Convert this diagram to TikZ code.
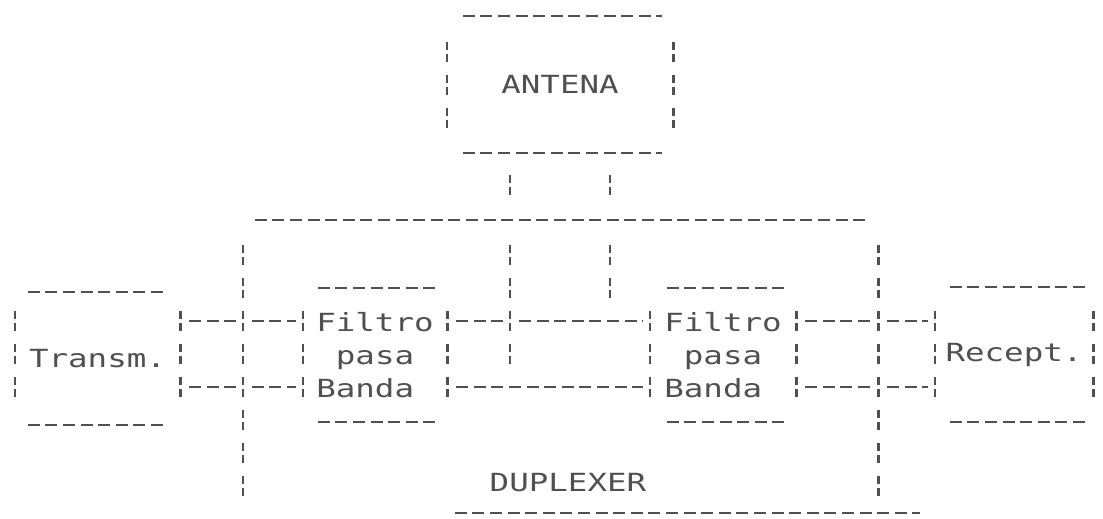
\documentclass[tikz,border=0pt]{standalone}
\usepackage{fontspec}
\newfontfamily\dotfont[FakeStretch=1.3]{DejaVu Sans Mono}
\usetikzlibrary{calc}
\definecolor{ink}{HTML}{505050}
\newcommand\asciisides[5]{%
  \draw[hd] ([xshift=#2pt]#1.north west) -- ([xshift=-#3pt]#1.north east);
  \draw[hd] ([xshift=#2pt]#1.south west) -- ([xshift=-#3pt]#1.south east);
  \draw[vd] ([yshift=-#4pt]#1.north west) -- ([yshift=#5pt]#1.south west);
  \draw[vd] ([yshift=-#4pt]#1.north east) -- ([yshift=#5pt]#1.south east);
}
\begin{document}
\begin{tikzpicture}[x=1pt,y=-1pt,
  hd/.style={draw=ink, line width=2.4pt, dash pattern=on 12pt off 5.6pt},
  vd/.style={draw=ink, line width=2.6pt, dash pattern=on 8pt off 4pt on 8pt off 13pt},
  blk/.style={rectangle, inner sep=0pt, text=ink, align=left,
    font=\dotfont\fontsize{25}{33}\selectfont},
  lbl/.style={inner sep=0pt, text=ink, font=\dotfont\fontsize{25}{33}\selectfont}]
\useasboundingbox (0,0) rectangle (1103,519);

% boxes
\node[blk, minimum width=226pt, minimum height=137pt] (ant) at (560,84.5) {ANTENA};
\node[blk, minimum width=635pt, minimum height=293pt] (dup) at (560.5,366.5) {};
\node[blk, minimum width=165pt, minimum height=133pt] (tx) at (97.5,358.5) {Transm.};
\node[blk, minimum width=144pt, minimum height=134pt] (f1) at (375,355) {Filtro\\\ pasa\\Banda};
\node[blk, minimum width=146pt, minimum height=134pt] (f2) at (723,355) {Filtro\\\ pasa\\Banda};
\node[blk, minimum width=158pt, minimum height=135pt] (rx) at (1014,354.5) {Recept.};
\node[lbl] (duplabel) at (568,483) {DUPLEXER};

\asciisides{ant}{16}{11}{26}{23}
\asciisides{tx}{13}{12}{19}{28}
\asciisides{f1}{15}{12}{23}{25}
\asciisides{f2}{17}{11}{23}{25}
\asciisides{rx}{15}{5}{24}{25}

% duplexer outline
\draw[hd] ([xshift=12pt]dup.north west) -- ([xshift=-13pt]dup.north east);
\draw[hd] ([xshift=212pt]dup.south west) -- ([xshift=42pt]dup.south east);
\draw[vd] ([yshift=-25pt]dup.north west) -- ([yshift=17pt]dup.south west);
\draw[vd] ([yshift=-25pt]dup.north east) -- ([yshift=17pt]dup.south east);

% rows and junctions
\coordinate (r1) at (0,321);
\coordinate (r3) at (0,387);
\coordinate (a1) at (510,185);
\coordinate (a2) at (610,185);
\coordinate (j1) at (510,364);
\coordinate (j2) at (610,298);

% antenna to duplexer
\draw[vd, shorten <=22pt, shorten >=24pt] (ant.south -| a1) -- (dup.north -| a1);
\draw[vd, shorten <=22pt, shorten >=24pt] (ant.south -| a2) -- (dup.north -| a2);
\draw[vd, shorten <=25pt] (dup.north -| a1) -- (j1);
\draw[vd, shorten <=25pt] (dup.north -| a2) -- (j2);

% row 1 connectors
\tikzset{cn/.style={hd, shorten <=9pt, shorten >=7pt}}
\draw[cn] (tx.east |- r1) -- (dup.west |- r1);
\draw[cn] (dup.west |- r1) -- (f1.west |- r1);
\draw[cn] (f1.east |- r1) -- (a1 |- r1);
\draw[cn] (a1 |- r1) -- (f2.west |- r1);
\draw[cn] (f2.east |- r1) -- (dup.east |- r1);
\draw[cn] (dup.east |- r1) -- (rx.west |- r1);
% row 3 connectors
\draw[cn] (tx.east |- r3) -- (dup.west |- r3);
\draw[cn] (dup.west |- r3) -- (f1.west |- r3);
\draw[cn] (f1.east |- r3) -- (f2.west |- r3);
\draw[cn] (f2.east |- r3) -- (dup.east |- r3);
\draw[cn] (dup.east |- r3) -- (rx.west |- r3);
\end{tikzpicture}
\end{document}
